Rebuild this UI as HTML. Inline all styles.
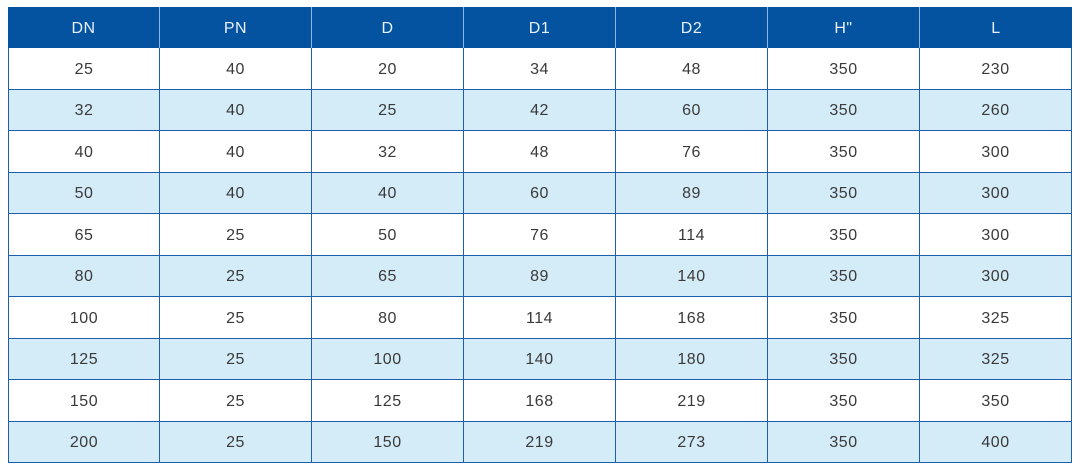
<!DOCTYPE html>
<html><head><style>
body{margin:0;width:1088px;height:474px;background:#fff;position:relative;font-family:"Liberation Sans",sans-serif;overflow:hidden}
.c{position:absolute;box-sizing:border-box;display:flex;align-items:center;justify-content:center;font-size:16px;color:#3a3a3a;padding-top:2px;letter-spacing:0.5px}
.h{background:#0453a0;color:#e8f0fa;border-right:1px solid #8fb4dc}
.r{border-right:1px solid #1d5fa8;border-bottom:1px solid #1d5fa8}
.b{background:#d4ebf8}
</style></head><body>
<div id="t"></div>
<script>
var H=["DN","PN","D","D1","D2","H\"","L"];
var D=[[25,40,20,34,48,350,230],[32,40,25,42,60,350,260],[40,40,32,48,76,350,300],[50,40,40,60,89,350,300],[65,25,50,76,114,350,300],[80,25,65,89,140,350,300],[100,25,80,114,168,350,325],[125,25,100,140,180,350,325],[150,25,125,168,219,350,350],[200,25,150,219,273,350,400]];
var xs=[8,160,312,464,616,768,920,1072];
var s="";
for(var j=0;j<7;j++){s+='<div class="c h" style="left:'+xs[j]+'px;top:7px;width:'+(xs[j+1]-xs[j])+'px;height:41px;'+(j==6?'border-right:none;':'')+'">'+H[j]+'</div>';}
for(var i=0;i<10;i++){var y0=Math.round(48+i*41.5),y1=Math.round(48+(i+1)*41.5);
for(var j=0;j<7;j++){s+='<div class="c r'+(i%2?' b':'')+'" style="left:'+xs[j]+'px;top:'+y0+'px;width:'+(xs[j+1]-xs[j])+'px;height:'+(y1-y0)+'px;'+(j==0?'border-left:1px solid #1d5fa8;':'')+'">'+D[i][j]+'</div>';}}
document.getElementById("t").innerHTML=s;
</script>
</body></html>
